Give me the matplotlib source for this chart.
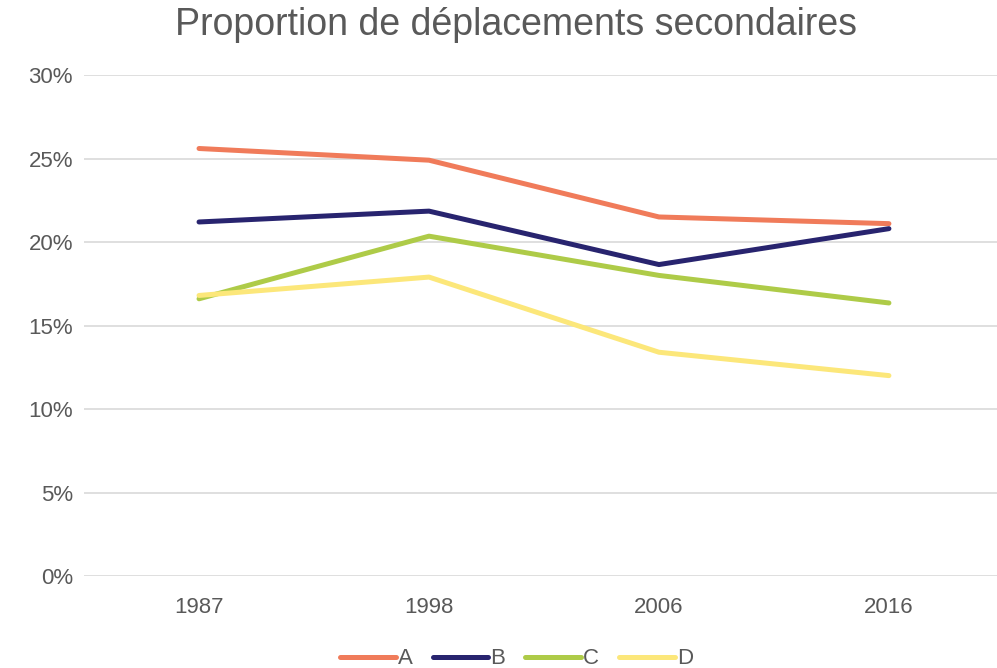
import matplotlib

matplotlib.use("Agg")

import matplotlib.pyplot as plt
from matplotlib.ticker import FuncFormatter

plt.rcParams["font.family"] = ["Liberation Sans", "DejaVu Sans"]

years = ["1987", "1998", "2006", "2016"]
series_a = [25.6, 24.9, 21.5, 21.1]
series_b = [21.2, 21.85, 18.65, 20.8]
series_c = [16.6, 20.35, 18.0, 16.35]
series_d = [16.8, 17.9, 13.4, 12.0]

series = [
    ("A", series_a, "#F07B5A"),
    ("B", series_b, "#28246F"),
    ("C", series_c, "#AECB48"),
    ("D", series_d, "#FCE77A"),
]

text_color = "#595959"

fig = plt.figure(figsize=(9.97, 6.68), dpi=100)
ax = fig.add_axes([0.0843, 0.1377, 0.9157, 0.75])

x = list(range(len(years)))
for name, values, color in series:
    ax.plot(x, values, color=color, linewidth=3.6, solid_capstyle="round",
            solid_joinstyle="round", label=name)

ax.set_xlim(-0.5, 3.47)
ax.set_ylim(0, 30)
ax.set_yticks(range(0, 31, 5))
ax.yaxis.set_major_formatter(FuncFormatter(lambda v, _: f"{v:.0f}%"))
ax.set_xticks(x)
ax.set_xticklabels(years)
ax.grid(True, axis="y", color="#D9D9D9", linewidth=1.2)
ax.set_axisbelow(True)
for side in ["top", "right", "left", "bottom"]:
    ax.spines[side].set_visible(False)
ax.tick_params(axis="both", length=0, labelsize=16, colors=text_color)
ax.tick_params(axis="x", pad=15)
ax.tick_params(axis="y", pad=8)

fig.suptitle("Proportion de déplacements secondaires", fontsize=27,
             color=text_color, x=0.518, y=0.99, va="top")

fig.legend(loc="lower center", bbox_to_anchor=(0.518, -0.032), ncol=4,
           frameon=False, fontsize=16, labelcolor=text_color,
           handlelength=2.5, handletextpad=0.1, columnspacing=0.9)

fig.savefig("out.png", dpi=100)
plt.close(fig)
